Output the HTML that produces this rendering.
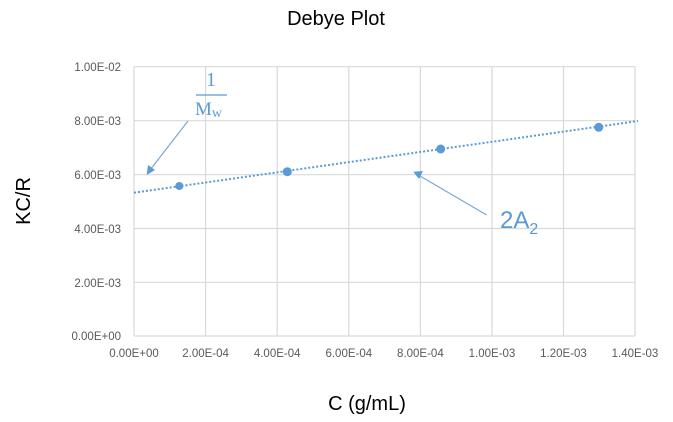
<!DOCTYPE html>
<html><head><style>body{margin:0;background:#fff}svg{display:block}</style></head><body>
<svg width="673" height="422" viewBox="0 0 673 422" xmlns="http://www.w3.org/2000/svg" font-family="Liberation Sans, sans-serif">
<rect width="673" height="422" fill="#fff"/>
<text x="336" y="25" font-size="20" text-anchor="middle" fill="#000">Debye Plot</text>
<g stroke="#d9d9d9" stroke-width="1.2">
<line x1="134" y1="66.7" x2="635" y2="66.7"/><line x1="134" y1="120.7" x2="635" y2="120.7"/><line x1="134" y1="174.7" x2="635" y2="174.7"/><line x1="134" y1="228.5" x2="635" y2="228.5"/><line x1="134" y1="282.3" x2="635" y2="282.3"/><line x1="134" y1="336" x2="635" y2="336"/>
<line x1="134" y1="66.7" x2="134" y2="336"/><line x1="205.6" y1="66.7" x2="205.6" y2="336"/><line x1="277.2" y1="66.7" x2="277.2" y2="336"/><line x1="348.8" y1="66.7" x2="348.8" y2="336"/><line x1="420.4" y1="66.7" x2="420.4" y2="336"/><line x1="492" y1="66.7" x2="492" y2="336"/><line x1="563.5" y1="66.7" x2="563.5" y2="336"/><line x1="635" y1="66.7" x2="635" y2="336"/>
</g>
<g font-size="11.5" fill="#595959" text-anchor="end">
<text x="121" y="71">1.00E-02</text><text x="121" y="125">8.00E-03</text><text x="121" y="179">6.00E-03</text><text x="121" y="233">4.00E-03</text><text x="121" y="287">2.00E-03</text><text x="121" y="340">0.00E+00</text>
</g>
<g font-size="11.5" fill="#595959" text-anchor="middle">
<text x="134" y="357">0.00E+00</text><text x="205.6" y="357">2.00E-04</text><text x="277.2" y="357">4.00E-04</text><text x="348.8" y="357">6.00E-04</text><text x="420.4" y="357">8.00E-04</text><text x="492" y="357">1.00E-03</text><text x="563.5" y="357">1.20E-03</text><text x="635" y="357">1.40E-03</text>
</g>
<line x1="134" y1="192.7" x2="638" y2="121" stroke="#5b9bd5" stroke-width="2" stroke-dasharray="2 2"/>
<g fill="#5b9bd5"><circle cx="179.3" cy="186" r="4"/><circle cx="287.3" cy="171.7" r="4.5"/><circle cx="440.7" cy="149" r="4.5"/><circle cx="598.7" cy="127.3" r="4.5"/></g>
<g stroke="#7ba7d3" stroke-width="1.2">
<line x1="188" y1="121" x2="150" y2="170"/><line x1="486.7" y1="215" x2="420" y2="176"/>
</g>
<polygon points="146.7,175 148,165 155,170" fill="#5b9bd5"/>
<polygon points="413.3,171.7 423,171 419,179" fill="#5b9bd5"/>
<g fill="#5b9bd5" font-family="Liberation Serif, serif">
<text x="211" y="86" font-size="20" text-anchor="middle">1</text>
<line x1="196" y1="95" x2="227" y2="95" stroke="#5b9bd5" stroke-width="1.3"/>
<text x="195" y="115" font-size="19">M<tspan font-size="14" dy="2">w</tspan></text>
</g>
<text x="500" y="228" font-size="24" fill="#5b9bd5">2A<tspan font-size="16" dy="6">2</tspan></text>
<text transform="translate(30,201) rotate(-90)" font-size="20" text-anchor="middle" fill="#000">KC/R</text>
<text x="367" y="410" font-size="20" text-anchor="middle" fill="#000">C (g/mL)</text>
</svg>
</body></html>
